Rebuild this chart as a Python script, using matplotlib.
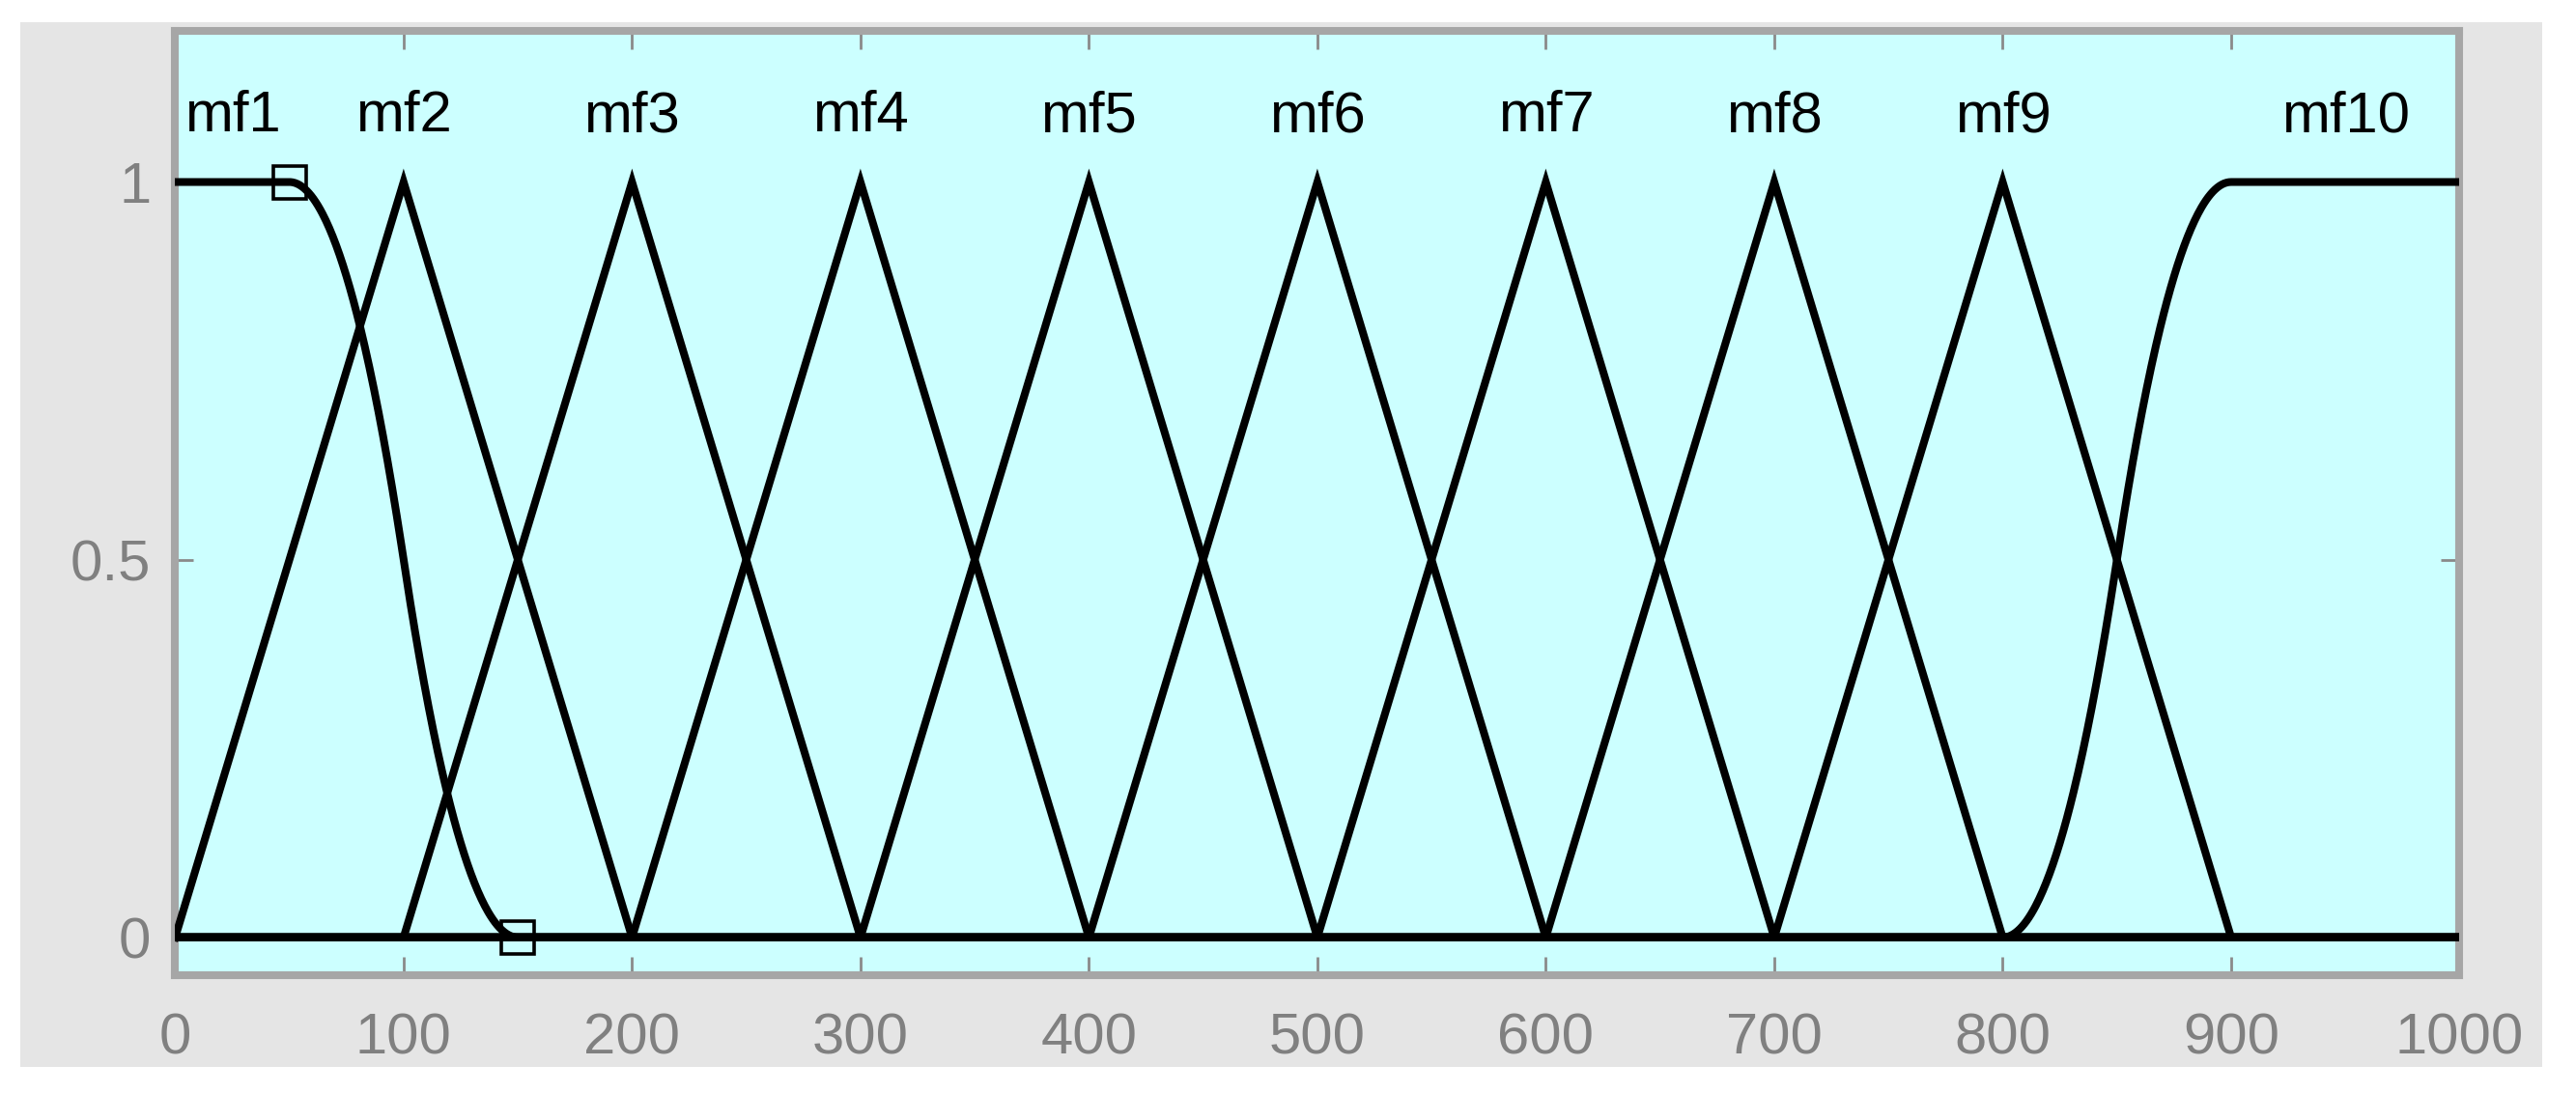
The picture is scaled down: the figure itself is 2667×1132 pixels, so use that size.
import numpy as np
import matplotlib.pyplot as plt
from matplotlib.patches import Rectangle

# ------------------------------------------
# 1. MEMBERSHIP FUNCTION DEFINITIONS
# ------------------------------------------
mf_names = ["mf1", "mf2", "mf3", "mf4", "mf5", "mf6", "mf7", "mf8", "mf9", "mf10"]
mf_types = ["zmf", "trimf", "trimf", "trimf", "trimf", "trimf", "trimf", "trimf", "trimf", "smf"]
mf_params = [
    [50, 150],
    [0, 100, 200],
    [100, 200, 300],
    [200, 300, 400],
    [300, 400, 500],
    [400, 500, 600],
    [500, 600, 700],
    [600, 700, 800],
    [700, 800, 900],
    [800, 900],
]
x_range = [0, 1000]
x_ticks = [0, 100, 200, 300, 400, 500, 600, 700, 800, 900, 1000]
y_ticks = [0, 0.5, 1]
y_tick_labels = ["0", "0.5", "1"]


def zmf(x, a, b):
    m = (a + b) / 2
    y = np.ones_like(x)
    y = np.where((x > a) & (x <= m), 1 - 2 * ((x - a) / (b - a)) ** 2, y)
    y = np.where((x > m) & (x <= b), 2 * ((x - b) / (b - a)) ** 2, y)
    y = np.where(x > b, 0.0, y)
    return y


def smf(x, a, b):
    return 1 - zmf(x, a, b)


def trimf(x, a, b, c):
    return np.maximum(np.minimum((x - a) / (b - a), (c - x) / (c - b)), 0)


funcs = {"zmf": zmf, "smf": smf, "trimf": trimf}
x = np.linspace(x_range[0], x_range[1], 2001)

# ------------------------------------------
# 2. FIGURE
# ------------------------------------------
plt.rcParams["font.family"] = ["Liberation Sans", "DejaVu Sans"]

fig = plt.figure(figsize=(13.335, 5.66), dpi=200, facecolor="white")
fig.patches.append(Rectangle((0.0079, 0.024), 0.979, 0.956, transform=fig.transFigure,
                             facecolor="#e5e5e5", edgecolor="none", zorder=-10))

ax = fig.add_axes([0.0680, 0.1078, 0.8868, 0.8639])
ax.set_zorder(5)
ax.set_facecolor("#ccffff")

for name, kind, p in zip(mf_names, mf_types, mf_params):
    y = funcs[kind](x, *p)
    ax.plot(x, y, color="black", lw=2.9, solid_joinstyle="miter", zorder=3)
    idx = np.where(y == y.max())[0]
    xc = x[int(round(idx.mean()))]
    ax.text(xc, 1.067, name, ha="center", va="baseline", fontsize=21.5, color="black")

# parameter markers of the selected mf
a, b = mf_params[0]
ax.plot([a, b], [1, 0], linestyle="none", marker="s", markersize=12,
        markerfacecolor="none", markeredgecolor="black", markeredgewidth=1.3, zorder=4)

ax.set_xlim(x_range)
ax.set_ylim(-0.05, 1.2)
ax.set_xticks(x_ticks)
ax.set_yticks(y_ticks)
ax.set_yticklabels(y_tick_labels)
ax.tick_params(direction="in", top=True, right=True, length=7, width=1.0,
               color="#8a8a8a", labelcolor="#808080", labelsize=21.5)
ax.tick_params(axis="x", pad=14)
ax.tick_params(axis="y", pad=9)
for s in ax.spines.values():
    s.set_color("#a6a6a6")
    s.set_linewidth(2.9)

plt.savefig("out.png", dpi=200, facecolor="white")
